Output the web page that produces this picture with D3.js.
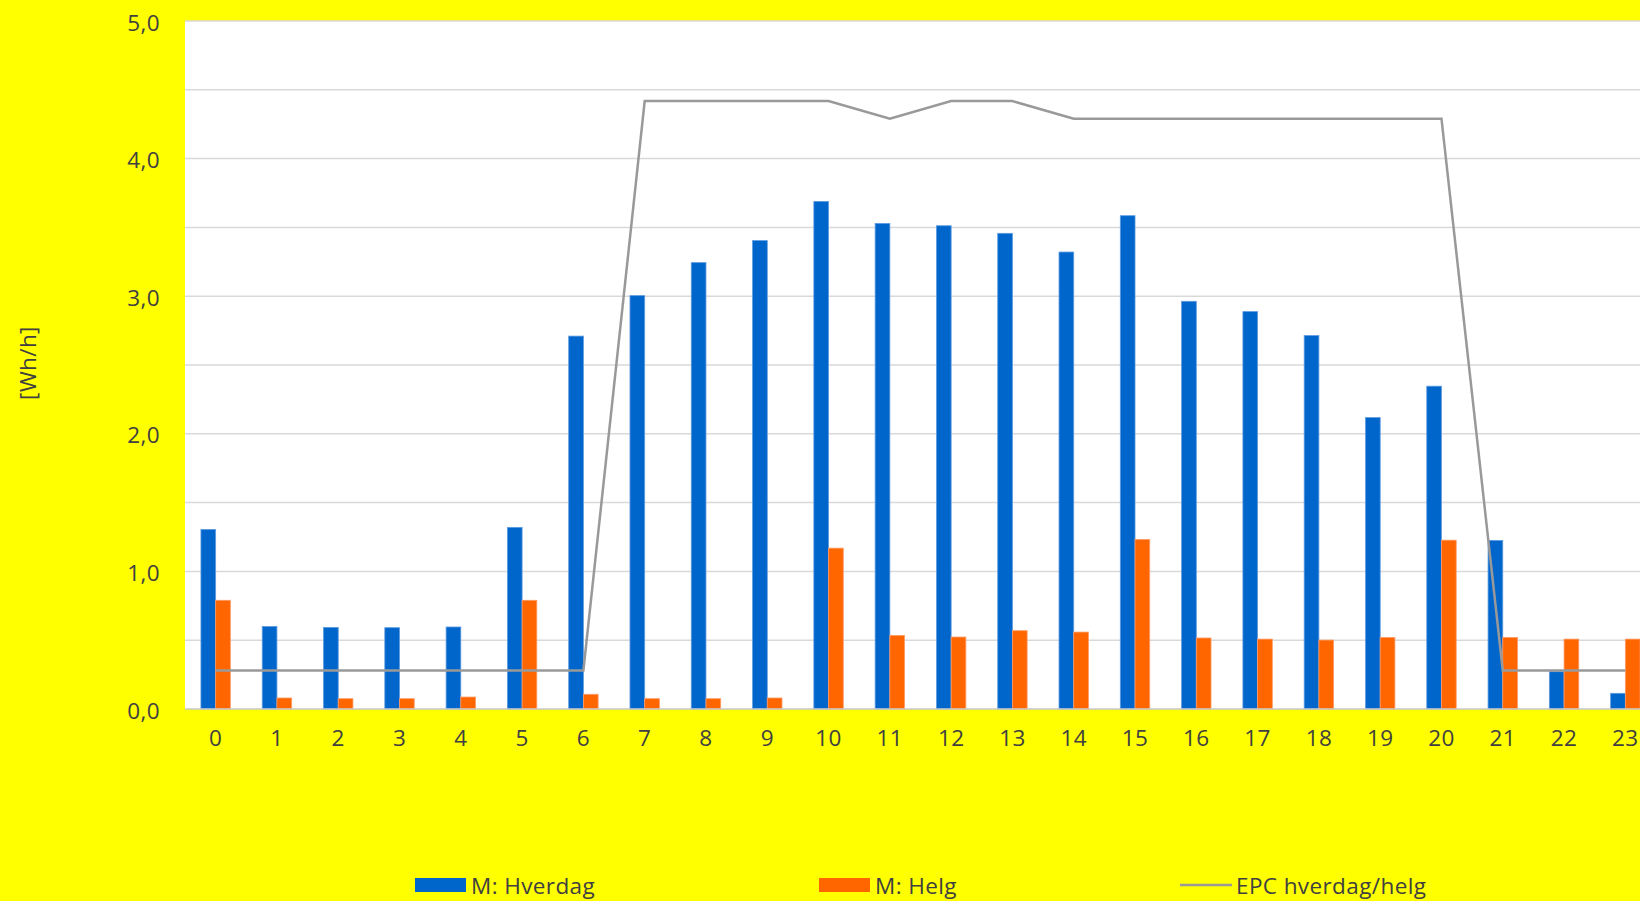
<!DOCTYPE html>
<html>
<head>
<meta charset="utf-8">
<script src="https://cdn.jsdelivr.net/npm/d3@7"></script>
<style>
  html, body { margin: 0; padding: 0; background: #ffff00; }
  svg { display: block; }
  text { font-family: "Open Sans", sans-serif; fill: #404040; letter-spacing: 0.4px; }
</style>
</head>
<body>
<svg id="chart" width="1640" height="901"></svg>
<script>
// Hourly consumption profile [Wh/h]
const hours = [0,1,2,3,4,5,6,7,8,9,10,11,12,13,14,15,16,17,18,19,20,21,22,23];
const hverdag = [1.305,0.60,0.593,0.591,0.596,1.32,2.71,3.004,3.244,3.404,3.689,3.529,3.512,3.457,3.321,3.585,2.963,2.888,2.714,2.118,2.346,1.225,0.271,0.114];
const helg = [0.79,0.08,0.075,0.075,0.087,0.79,0.107,0.075,0.075,0.08,1.169,0.535,0.523,0.569,0.559,1.232,0.516,0.508,0.501,0.52,1.227,0.52,0.508,0.508];
const epc = [0.28,0.28,0.28,0.28,0.28,0.28,0.28,4.418,4.418,4.418,4.418,4.29,4.418,4.418,4.29,4.29,4.29,4.29,4.29,4.29,4.29,0.28,0.28,0.28];
const yTicks = [0,0.5,1,1.5,2,2.5,3,3.5,4,4.5,5];
const yLabelTicks = [0,1,2,3,4,5];
const seriesNames = ["M: Hverdag", "M: Helg", "EPC hverdag/helg"];

const colors = { hverdag: "#0066cc", helg: "#ff6600", epc: "#999999" };
const fontSize = 22.5;

const svg = d3.select("#chart");
const plot = { left: 185, top: 21, right: 1656, bottom: 709 };

const x = d3.scaleBand().domain(hours).range([plot.left, plot.right]).padding(0);
const y = d3.scaleLinear().domain([0, 5]).range([plot.bottom, plot.top]);
const bw = x.bandwidth() * 0.24;
const cx = h => x(h) + x.bandwidth() / 2;

// plot area
svg.append("rect")
  .attr("x", plot.left).attr("y", plot.top)
  .attr("width", plot.right - plot.left).attr("height", plot.bottom - plot.top)
  .attr("fill", "#ffffff");

// horizontal gridlines
svg.append("g").selectAll("line").data(yTicks.filter(d => d > 0)).join("line")
  .attr("x1", plot.left).attr("x2", plot.right)
  .attr("y1", d => y(d)).attr("y2", d => y(d))
  .attr("stroke", "#d9d9d9").attr("stroke-width", 1.5);

// bars
const bars = svg.append("g");
bars.selectAll("rect.hv").data(hours).join("rect")
  .attr("class", "hv")
  .attr("x", h => cx(h) - bw).attr("width", bw)
  .attr("y", (h, i) => y(hverdag[i])).attr("height", (h, i) => y(0) - y(hverdag[i]))
  .attr("fill", colors.hverdag).attr("stroke", "#5e9be0").attr("stroke-width", 0.8);
bars.selectAll("rect.hg").data(hours).join("rect")
  .attr("class", "hg")
  .attr("x", h => cx(h)).attr("width", bw)
  .attr("y", (h, i) => y(helg[i])).attr("height", (h, i) => y(0) - y(helg[i]))
  .attr("fill", colors.helg).attr("stroke", "#ff9a66").attr("stroke-width", 0.8);

// baseline
svg.append("line")
  .attr("x1", plot.left).attr("x2", plot.right)
  .attr("y1", y(0)).attr("y2", y(0))
  .attr("stroke", "#c8c8c8").attr("stroke-width", 1.5);

// EPC line
svg.append("path")
  .datum(hours)
  .attr("d", d3.line().x(h => cx(h)).y((h, i) => y(epc[i])))
  .attr("fill", "none").attr("stroke", colors.epc).attr("stroke-width", 2.5)
  .attr("stroke-linejoin", "miter");

// y axis labels
const fmt = d => d3.format(".1f")(d).replace(".", ",");
const yAxis = d3.axisLeft(y).tickValues(yLabelTicks).tickFormat(fmt).tickSize(0).tickPadding(25);
const gy = svg.append("g").attr("transform", `translate(${plot.left},0)`).call(yAxis);
gy.select(".domain").remove();
gy.selectAll("text").attr("font-size", fontSize).attr("font-family", "Open Sans").attr("fill", "#404040").attr("dy", "0.4em");

// x axis labels
const xAxis = d3.axisBottom(x).tickSize(0).tickPadding(21);
const gx = svg.append("g").attr("transform", `translate(0,${plot.bottom})`).call(xAxis);
gx.select(".domain").remove();
gx.selectAll("text").attr("font-size", fontSize).attr("font-family", "Open Sans").attr("fill", "#404040");

// y axis title
svg.append("text")
  .attr("transform", "translate(27,363) rotate(-90)")
  .attr("text-anchor", "middle").attr("dominant-baseline", "central")
  .attr("font-size", fontSize)
  .text("[Wh/h]");

// legend
const legend = svg.append("g");
const legendItems = [
  { name: seriesNames[0], type: "rect", color: colors.hverdag, x: 415 },
  { name: seriesNames[1], type: "rect", color: colors.helg, x: 819 },
  { name: seriesNames[2], type: "line", color: colors.epc, x: 1180 }
];
const ly = 885;
legendItems.forEach(it => {
  if (it.type === "rect") {
    legend.append("rect").attr("x", it.x).attr("y", ly - 7).attr("width", 51).attr("height", 14).attr("fill", it.color);
  } else {
    legend.append("line").attr("x1", it.x).attr("x2", it.x + 52).attr("y1", ly).attr("y2", ly)
      .attr("stroke", it.color).attr("stroke-width", 2.5);
  }
  legend.append("text").attr("x", it.x + 56).attr("y", ly).attr("dominant-baseline", "central")
    .attr("font-size", fontSize).text(it.name);
});
</script>
</body>
</html>
